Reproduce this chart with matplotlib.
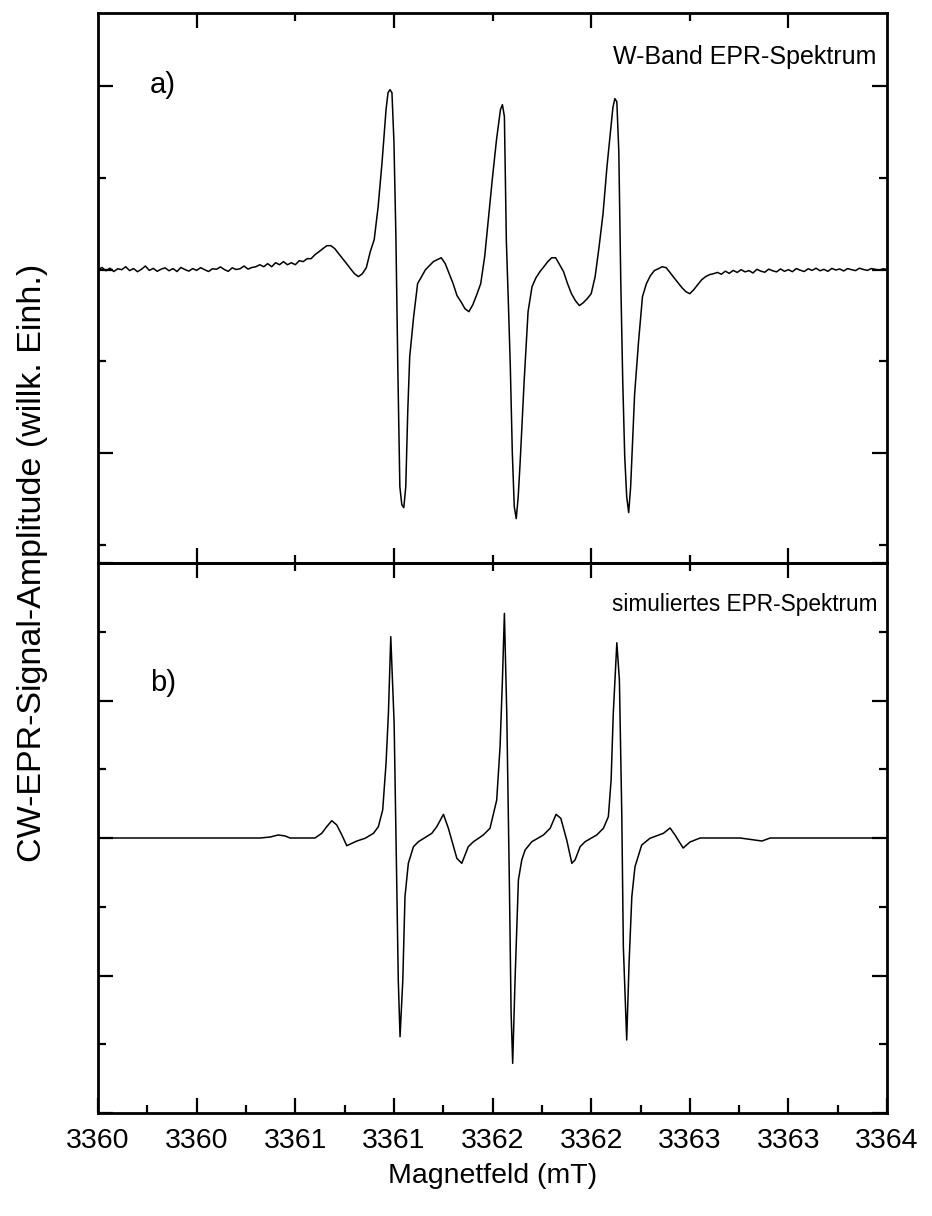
import matplotlib
matplotlib.use("Agg")
import matplotlib.pyplot as plt
from matplotlib.ticker import FixedLocator, NullFormatter

plt.rcParams["font.family"] = ["Liberation Sans", "DejaVu Sans"]

# a) measured W-band spectrum: field (mT) and amplitude (arb. units)
field_a = [
    3360.00, 3360.02, 3360.04, 3360.06, 3360.08, 3360.10, 3360.12, 3360.14, 3360.16, 3360.18,
    3360.20, 3360.22, 3360.24, 3360.26, 3360.28, 3360.30, 3360.32, 3360.34, 3360.36, 3360.38,
    3360.40, 3360.42, 3360.44, 3360.46, 3360.48, 3360.50, 3360.52, 3360.54, 3360.56, 3360.58,
    3360.60, 3360.62, 3360.64, 3360.66, 3360.68, 3360.70, 3360.72, 3360.74, 3360.76, 3360.78,
    3360.80, 3360.82, 3360.84, 3360.86, 3360.88, 3360.90, 3360.92, 3360.94, 3360.96, 3360.98,
    3361.00, 3361.02, 3361.04, 3361.06, 3361.08, 3361.10, 3361.12, 3361.14, 3361.16, 3361.18,
    3361.20, 3361.22, 3361.24, 3361.26, 3361.28, 3361.30, 3361.32, 3361.34, 3361.36, 3361.38,
    3361.40, 3361.42, 3361.44, 3361.46, 3361.47, 3361.48, 3361.49, 3361.50, 3361.51, 3361.52,
    3361.53, 3361.54, 3361.55, 3361.56, 3361.57, 3361.58, 3361.60, 3361.62, 3361.64, 3361.66,
    3361.68, 3361.70, 3361.72, 3361.74, 3361.76, 3361.78, 3361.80, 3361.82, 3361.84, 3361.86,
    3361.88, 3361.90, 3361.92, 3361.94, 3361.96, 3361.98, 3362.00, 3362.02, 3362.04, 3362.05,
    3362.06, 3362.07, 3362.08, 3362.09, 3362.10, 3362.11, 3362.12, 3362.13, 3362.14, 3362.16,
    3362.18, 3362.20, 3362.22, 3362.24, 3362.26, 3362.28, 3362.30, 3362.32, 3362.34, 3362.36,
    3362.38, 3362.40, 3362.42, 3362.44, 3362.46, 3362.48, 3362.50, 3362.52, 3362.54, 3362.56,
    3362.58, 3362.60, 3362.61, 3362.62, 3362.63, 3362.64, 3362.65, 3362.66, 3362.67, 3362.68,
    3362.69, 3362.70, 3362.71, 3362.72, 3362.74, 3362.76, 3362.78, 3362.80, 3362.82, 3362.84,
    3362.86, 3362.88, 3362.90, 3362.92, 3362.94, 3362.96, 3362.98, 3363.00, 3363.02, 3363.04,
    3363.06, 3363.08, 3363.10, 3363.12, 3363.14, 3363.16, 3363.18, 3363.20, 3363.22, 3363.24,
    3363.26, 3363.28, 3363.30, 3363.32, 3363.34, 3363.36, 3363.38, 3363.40, 3363.42, 3363.44,
    3363.46, 3363.48, 3363.50, 3363.52, 3363.54, 3363.56, 3363.58, 3363.60, 3363.62, 3363.64,
    3363.66, 3363.68, 3363.70, 3363.72, 3363.74, 3363.76, 3363.78, 3363.80, 3363.82, 3363.84,
    3363.86, 3363.88, 3363.90, 3363.92, 3363.94, 3363.96, 3363.98, 3364.00,
]
amp_a = [
    0.000, 0.012, -0.006, 0.008, -0.010, 0.005, 0.000, 0.016, -0.005, 0.006,
    -0.011, 0.002, 0.020, -0.004, 0.007, -0.009, 0.003, 0.010, -0.006, 0.006,
    -0.010, 0.012, 0.001, -0.008, 0.006, -0.004, 0.011, 0.000, -0.010, 0.005,
    0.002, 0.015, 0.001, -0.009, 0.010, 0.001, 0.005, 0.020, 0.003, 0.012,
    0.016, 0.027, 0.016, 0.033, 0.016, 0.038, 0.027, 0.044, 0.027, 0.038,
    0.027, 0.049, 0.044, 0.060, 0.060, 0.082, 0.098, 0.115, 0.131, 0.131,
    0.115, 0.087, 0.060, 0.033, 0.005, -0.022, -0.038, -0.022, 0.011, 0.098,
    0.164, 0.344, 0.589, 0.873, 0.965, 0.982, 0.965, 0.698, 0.180, -0.556,
    -1.184, -1.282, -1.298, -1.184, -0.775, -0.475, -0.256, -0.076, -0.038, 0.000,
    0.022, 0.044, 0.055, 0.065, 0.033, -0.022, -0.076, -0.142, -0.175, -0.213,
    -0.229, -0.191, -0.136, -0.076, 0.071, 0.289, 0.507, 0.709, 0.873, 0.900,
    0.835, 0.153, -0.175, -0.529, -0.993, -1.293, -1.358, -1.238, -1.047, -0.611,
    -0.229, -0.093, -0.044, -0.011, 0.016, 0.044, 0.065, 0.065, 0.027, -0.011,
    -0.076, -0.131, -0.169, -0.196, -0.180, -0.158, -0.131, -0.038, 0.125, 0.305,
    0.562, 0.780, 0.884, 0.933, 0.916, 0.644, -0.065, -0.611, -1.020, -1.238,
    -1.325, -1.184, -0.938, -0.682, -0.393, -0.147, -0.076, -0.033, -0.005, 0.005,
    0.016, 0.011, -0.016, -0.044, -0.071, -0.098, -0.120, -0.131, -0.109, -0.082,
    -0.055, -0.038, -0.027, -0.022, -0.015, -0.025, -0.008, -0.020, -0.004, -0.015,
    0.000, -0.012, -0.005, -0.018, 0.002, -0.008, -0.014, 0.003, -0.006, -0.012,
    0.004, -0.009, 0.000, -0.011, 0.006, -0.003, -0.010, 0.005, -0.004, 0.008,
    -0.006, 0.002, -0.009, 0.007, -0.002, 0.004, -0.007, 0.006, 0.000, -0.005,
    0.008, 0.001, -0.004, 0.006, 0.002, -0.003, 0.005, 0.001,
]

# b) simulated spectrum
field_b = [
    3360.000, 3360.821, 3360.872, 3360.913, 3360.948, 3360.973, 3361.100, 3361.134,
    3361.159, 3361.185, 3361.210, 3361.236, 3361.261, 3361.286, 3361.312, 3361.354,
    3361.396, 3361.421, 3361.443, 3361.460, 3361.472, 3361.484, 3361.501, 3361.514,
    3361.522, 3361.531, 3361.545, 3361.556, 3361.573, 3361.599, 3361.624, 3361.692,
    3361.717, 3361.751, 3361.776, 3361.819, 3361.844, 3361.877, 3361.903, 3361.953,
    3361.987, 3362.021, 3362.038, 3362.050, 3362.060, 3362.072, 3362.085, 3362.094,
    3362.102, 3362.114, 3362.131, 3362.148, 3362.165, 3362.199, 3362.258, 3362.292,
    3362.322, 3362.346, 3362.376, 3362.402, 3362.418, 3362.444, 3362.469, 3362.528,
    3362.562, 3362.587, 3362.601, 3362.612, 3362.630, 3362.643, 3362.655, 3362.663,
    3362.680, 3362.692, 3362.706, 3362.722, 3362.756, 3362.798, 3362.866, 3362.900,
    3362.925, 3362.966, 3363.001, 3363.052, 3363.255, 3363.331, 3363.366, 3363.407,
    3364.000,
]
amp_b = [
    0.000, 0.000, 0.007, 0.022, 0.015, 0.000, 0.000, 0.034,
    0.082, 0.126, 0.095, 0.022, -0.056, -0.039, -0.022, -0.002,
    0.034, 0.082, 0.204, 0.543, 0.907, 1.464, 0.834, -0.305,
    -1.033, -1.445, -1.033, -0.427, -0.184, -0.063, -0.027, 0.034,
    0.082, 0.172, 0.071, -0.148, -0.184, -0.063, -0.027, 0.022,
    0.071, 0.276, 0.664, 1.149, 1.634, 0.907, -0.305, -1.273,
    -1.639, -1.033, -0.305, -0.160, -0.087, -0.027, 0.022, 0.071,
    0.172, 0.143, -0.015, -0.184, -0.160, -0.063, -0.027, 0.022,
    0.071, 0.155, 0.422, 0.907, 1.420, 1.149, 0.180, -0.791,
    -1.469, -0.911, -0.427, -0.209, -0.051, -0.002, 0.034, 0.073,
    0.022, -0.073, -0.029, 0.000, 0.000, -0.015, -0.022, 0.000,
    0.000,
]

x_major_bottom = [3360.0, 3360.5, 3361.0, 3361.5, 3362.0, 3362.5, 3363.0, 3363.5, 3364.0]
x_labels = ["3360", "3360", "3361", "3361", "3362", "3362", "3363", "3363", "3364"]
x_minor_bottom = [3360.25, 3360.75, 3361.25, 3361.75, 3362.25, 3362.75, 3363.25, 3363.75]
x_major_inner = [3360.5, 3361.5, 3362.5, 3363.5]
x_minor_inner = [3361.0, 3362.0, 3363.0]


def style_ticks(axis_obj, major, minor):
    axis_obj.set_major_locator(FixedLocator(major))
    axis_obj.set_minor_locator(FixedLocator(minor))


fig = plt.figure(figsize=(9.32, 12.16), dpi=100)
ax_a = fig.add_axes([0.1052, 0.537, 0.8466, 0.4523])
ax_b = fig.add_axes([0.1052, 0.0847, 0.8466, 0.4523])

ax_a.plot(field_a, amp_a, color="black", lw=1.1)
ax_b.plot(field_b, amp_b, color="black", lw=1.1)

for ax in (ax_a, ax_b):
    ax.set_xlim(3360, 3364)
    for s in ax.spines.values():
        s.set_linewidth(2.0)
    ax.tick_params(which="both", direction="in", left=True, right=True,
                   labelleft=False, width=1.6)
    ax.tick_params(which="major", length=10.5)
    ax.tick_params(which="minor", length=5.5)
    ax.yaxis.set_major_formatter(NullFormatter())

ax_a.set_ylim(-1.6, 1.4)
style_ticks(ax_a.yaxis, [-1, 0, 1], [-1.5, -0.5, 0.5])
style_ticks(ax_a.xaxis, x_major_inner, x_minor_inner)
ax_a.tick_params(which="both", top=True, bottom=True, labelbottom=False)

ax_b.set_ylim(-2, 2)
style_ticks(ax_b.yaxis, [-2, -1, 0, 1, 2], [-1.5, -0.5, 0.5, 1.5])
style_ticks(ax_b.xaxis, x_major_bottom, x_minor_bottom)
ax_b.set_xticklabels(x_labels)
ax_b.tick_params(axis="x", which="both", top=False, bottom=True,
                 labelsize=20.5, pad=11)

top_b = ax_b.secondary_xaxis("top")
style_ticks(top_b.xaxis, x_major_inner, x_minor_inner)
top_b.tick_params(which="both", direction="in", width=1.6, labeltop=False)
top_b.tick_params(which="major", length=10.5)
top_b.tick_params(which="minor", length=5.5)
top_b.spines["top"].set_linewidth(2.0)

ax_a.text(0.066, 0.869, "a)", transform=ax_a.transAxes, fontsize=21, va="center")
ax_a.text(0.653, 0.92, "W-Band EPR-Spektrum", transform=ax_a.transAxes,
          fontsize=18, va="center")
ax_b.text(0.066, 0.782, "b)", transform=ax_b.transAxes, fontsize=21, va="center")
ax_b.text(0.651, 0.924, "simuliertes EPR-Spektrum", transform=ax_b.transAxes,
          fontsize=16.3, va="center")

fig.text(0.035, 0.537, "CW-EPR-Signal-Amplitude (willk. Einh.)", rotation=90,
         fontsize=24.5, ha="center", va="center")
fig.text(0.529, 0.033, "Magnetfeld (mT)", fontsize=20.5, ha="center", va="center")

fig.savefig("out.png", dpi=100)
